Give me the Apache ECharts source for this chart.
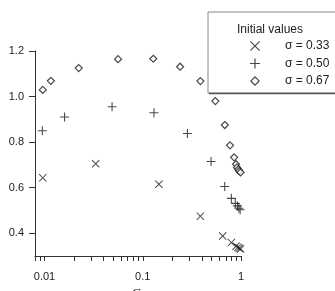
<!DOCTYPE html>
<html>
<head>
<meta charset="utf-8">
<script src="https://cdn.jsdelivr.net/npm/echarts@6/dist/echarts.min.js"></script>
<style>
  html, body { margin: 0; padding: 0; background: #fff; }
  #chart { width: 335px; height: 291px; }
</style>
</head>
<body>
<div id="chart"></div>
<script>
// values
const sigma033C = [0.0096, 0.0332, 0.146, 0.386, 0.651, 0.798, 0.89, 0.93, 0.96, 0.99]
const sigma033V = [0.643, 0.705, 0.615, 0.475, 0.388, 0.359, 0.343, 0.338, 0.334, 0.331]

const sigma050C = [0.0095, 0.016, 0.0487, 0.13, 0.285, 0.496, 0.683, 0.798, 0.875, 0.92, 0.95, 0.98]
const sigma050V = [0.850, 0.910, 0.955, 0.929, 0.838, 0.715, 0.605, 0.553, 0.531, 0.52, 0.51, 0.503]

const sigma067C = [0.0096, 0.0116, 0.0223, 0.056, 0.128, 0.24, 0.386, 0.548, 0.684, 0.773, 0.85, 0.89, 0.91, 0.94, 0.96, 0.99]
const sigma067V = [1.029, 1.069, 1.125, 1.164, 1.166, 1.131, 1.068, 0.980, 0.875, 0.786, 0.733, 0.703, 0.689, 0.68, 0.673, 0.667]

const seriesNames = ['σ = 0.33', 'σ = 0.50', 'σ = 0.67']

// axis ticks
const xTickValues = [0.008, 0.009, 0.01, 0.02, 0.03, 0.04, 0.05, 0.06, 0.07, 0.08, 0.09,
  0.1, 0.2, 0.3, 0.4, 0.5, 0.6, 0.7, 0.8, 0.9, 1]
const xLabelValues = [0.01, 0.1, 1]
const yTickValues = [0.4, 0.6, 0.8, 1.0, 1.2]

const plusPath = 'path://M44,0H56V44H100V56H56V100H44V56H0V44H44Z'
const crossPath = 'path://M0,8.5L8.5,0L50,41.5L91.5,0L100,8.5L58.5,50L100,91.5L91.5,100L50,58.5L8.5,100L0,91.5L41.5,50Z'
// hollow diamond outline for the legend icon
const ringPath = 'path://M50,0L100,50L50,100L0,50ZM50,17L17,50L50,83L83,50Z'
const ink = '#1a1a1a'
const font = "'Liberation Sans', Arial, sans-serif"

function pairs(xs, ys){
  return xs.map((x, i) => [x, ys[i]])
}

const chart = echarts.init(document.getElementById('chart'))

const option = {
  animation: false,
  grid: {left: 35, right: 94, top: 51, bottom: 35, outerBoundsMode: 'none', containLabel: false},
  xAxis: {
    type: 'log',
    logBase: 10,
    min: 0.008,
    max: 1,
    axisLine: {lineStyle: {color: '#333', width: 1}},
    axisTick: {show: true, length: 5, inside: false, customValues: xTickValues, lineStyle: {color: '#333'}},
    axisLabel: {
      customValues: xLabelValues,
      margin: 15,
      fontSize: 11,
      color: '#222',
      fontFamily: font,
      formatter: v => String(v)
    },
    splitLine: {show: false},
    minorTick: {show: false},
    name: '{i|C}{s|d}',
    nameLocation: 'middle',
    nameGap: 29,
    nameTextStyle: {
      rich: {
        i: {fontFamily: "'Liberation Serif', serif", fontStyle: 'italic', fontSize: 13, color: '#222'},
        s: {fontFamily: "'Liberation Serif', serif", fontStyle: 'italic', fontSize: 9, color: '#222', padding: [8, 0, 0, 0]}
      }
    }
  },
  yAxis: {
    type: 'value',
    min: 0.3,
    max: 1.2,
    axisLine: {show: true, lineStyle: {color: '#333', width: 1}},
    axisTick: {show: true, length: 6, customValues: yTickValues, lineStyle: {color: '#333'}},
    axisLabel: {
      customValues: yTickValues,
      margin: 11,
      fontSize: 11,
      color: '#222',
      fontFamily: font,
      formatter: v => v.toFixed(1)
    },
    splitLine: {show: false}
  },
  legend: {
    orient: 'vertical',
    left: 245,
    top: 35,
    itemWidth: 10,
    itemHeight: 10,
    itemGap: 5.5,
    data: [
      {name: seriesNames[0], icon: crossPath},
      {name: seriesNames[1], icon: plusPath},
      {name: seriesNames[2], icon: ringPath, itemStyle: {color: ink, borderWidth: 0}}
    ],
    textStyle: {fontSize: 12, color: '#222', fontFamily: font, padding: [0, 0, 0, 20]}
  },
  graphic: [
    {
      type: 'rect',
      shape: {x: 208, y: 12, width: 140, height: 81},
      style: {fill: '#fff', stroke: '#888', lineWidth: 1},
      z: 0
    },
    {
      type: 'line',
      shape: {x1: 209, y1: 93.5, x2: 335, y2: 93.5},
      style: {stroke: '#555', lineWidth: 1.5},
      z: 0
    },
    {
      type: 'text',
      left: 237,
      top: 24,
      style: {text: 'Initial values', fontSize: 12, fill: '#222', fontFamily: font},
      z: 1
    }
  ],
  series: [
    {
      name: seriesNames[0],
      type: 'scatter',
      symbol: crossPath,
      symbolSize: 8,
      itemStyle: {color: ink},
      data: pairs(sigma033C, sigma033V)
    },
    {
      name: seriesNames[1],
      type: 'scatter',
      symbol: plusPath,
      symbolSize: 9,
      itemStyle: {color: ink},
      data: pairs(sigma050C, sigma050V)
    },
    {
      name: seriesNames[2],
      type: 'scatter',
      symbol: 'diamond',
      symbolSize: 7,
      itemStyle: {color: '#fff', borderColor: ink, borderWidth: 1.2},
      data: pairs(sigma067C, sigma067V)
    }
  ]
}

chart.setOption(option)
</script>
</body>
</html>
